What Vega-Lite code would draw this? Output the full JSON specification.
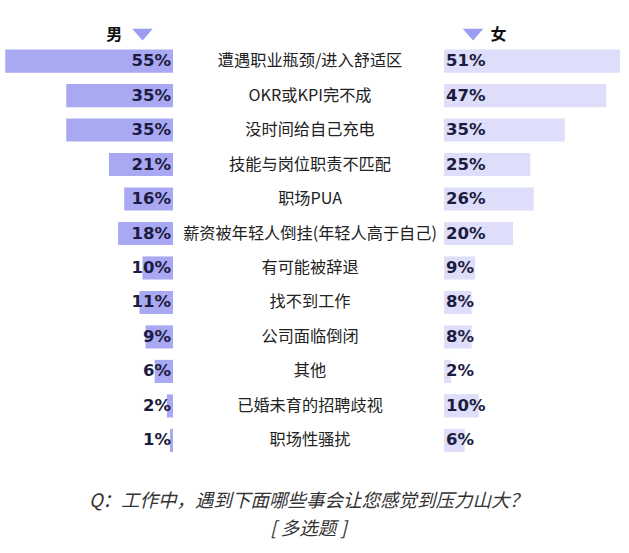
{
  "$schema": "https://vega.github.io/schema/vega-lite/v6.json",
  "width": 629,
  "height": 467,
  "autosize": {"type": "none"},
  "padding": {"left": 0, "top": 0, "right": 0, "bottom": 86},
  "background": "white",
  "config": {"view": {"stroke": null}},
  "title": {
    "text": "Q：工作中，遇到下面哪些事会让您感觉到压力山大？",
    "subtitle": "[ 多选题 ]",
    "orient": "bottom",
    "anchor": "middle",
    "offset": 25,
    "dx": -6,
    "font": "Noto Sans CJK SC",
    "fontSize": 18.5,
    "fontStyle": "italic",
    "fontWeight": "normal",
    "color": "#333333",
    "subtitleFont": "Noto Sans CJK SC",
    "subtitleFontSize": 18.5,
    "subtitleFontStyle": "italic",
    "subtitleColor": "#333333",
    "subtitlePadding": 9
  },
  "data": {
    "values": [
      {"item": "遭遇职业瓶颈/进入舒适区", "male": 0.55, "female": 0.51},
      {"item": "OKR或KPI完不成", "male": 0.35, "female": 0.47},
      {"item": "没时间给自己充电", "male": 0.35, "female": 0.35},
      {"item": "技能与岗位职责不匹配", "male": 0.21, "female": 0.25},
      {"item": "职场PUA", "male": 0.16, "female": 0.26},
      {"item": "薪资被年轻人倒挂(年轻人高于自己)", "male": 0.18, "female": 0.20},
      {"item": "有可能被辞退", "male": 0.10, "female": 0.09},
      {"item": "找不到工作", "male": 0.11, "female": 0.08},
      {"item": "公司面临倒闭", "male": 0.09, "female": 0.08},
      {"item": "其他", "male": 0.06, "female": 0.02},
      {"item": "已婚未育的招聘歧视", "male": 0.02, "female": 0.10},
      {"item": "职场性骚扰", "male": 0.01, "female": 0.06}
    ]
  },
  "resolve": {"scale": {"x": "independent"}},
  "layer": [
    {
      "layer": [
        {
          "mark": {"type": "bar", "color": "#a9a9f3"},
          "encoding": {
            "y": {"field": "item", "type": "nominal", "axis": null, "sort": null,
              "scale": {"domain": ["hdr", "遭遇职业瓶颈/进入舒适区", "OKR或KPI完不成", "没时间给自己充电", "技能与岗位职责不匹配", "职场PUA", "薪资被年轻人倒挂(年轻人高于自己)", "有可能被辞退", "找不到工作", "公司面临倒闭", "其他", "已婚未育的招聘歧视", "职场性骚扰"], "paddingInner": 0.33, "paddingOuter": 0.437}},
            "x": {"field": "male", "type": "quantitative", "axis": null,
              "scale": {"domain": [-1.495, 0.5672], "reverse": true, "zero": false, "nice": false}},
            "x2": {"datum": 0}
          }
        },
        {
          "mark": {"type": "text", "align": "right", "baseline": "middle", "dx": -2, "font": "DejaVu Sans", "fontSize": 16.5, "fontWeight": "bold", "color": "#1c1c40"},
          "encoding": {
            "y": {"field": "item", "type": "nominal", "axis": null, "sort": null},
            "x": {"datum": 0, "type": "quantitative", "axis": null,
              "scale": {"domain": [-1.495, 0.5672], "reverse": true, "zero": false, "nice": false}},
            "text": {"field": "male", "type": "quantitative", "format": ".0%"}
          }
        },
        {
          "data": {"values": [{"label": "男"}]},
          "mark": {"type": "text", "align": "center", "baseline": "middle", "dy": 8, "font": "Noto Sans CJK SC", "fontSize": 16, "fontWeight": "bold", "color": "#111111"},
          "encoding": {
            "y": {"datum": "hdr"},
            "x": {"datum": 0.193, "type": "quantitative"},
            "text": {"field": "label"}
          }
        },
        {
          "data": {"values": [{"label": "男"}]},
          "mark": {"type": "point", "shape": "M-1,-0.57L1,-0.57L0,0.57Z", "filled": true, "size": 420, "color": "#9c9cf0", "opacity": 1},
          "encoding": {
            "y": {"datum": "hdr"},
            "yOffset": {"value": 19.5},
            "x": {"datum": 0.1, "type": "quantitative"}
          }
        }
      ]
    },
    {
      "layer": [
        {
          "mark": {"type": "bar", "color": "#dedefa"},
          "encoding": {
            "y": {"field": "item", "type": "nominal", "axis": null, "sort": null},
            "x": {"field": "female", "type": "quantitative", "axis": null,
              "scale": {"domain": [-1.287, 0.536], "zero": false, "nice": false}},
            "x2": {"datum": 0}
          }
        },
        {
          "mark": {"type": "text", "align": "left", "baseline": "middle", "dx": 2, "font": "DejaVu Sans", "fontSize": 16.5, "fontWeight": "bold", "color": "#1c1c40"},
          "encoding": {
            "y": {"field": "item", "type": "nominal", "axis": null, "sort": null},
            "x": {"datum": 0, "type": "quantitative"},
            "text": {"field": "female", "type": "quantitative", "format": ".0%"}
          }
        },
        {
          "mark": {"type": "text", "align": "center", "baseline": "middle", "font": "Noto Sans CJK SC", "fontSize": 16.2, "color": "#222222"},
          "encoding": {
            "y": {"field": "item", "type": "nominal", "axis": null, "sort": null},
            "x": {"datum": -0.3884, "type": "quantitative"},
            "text": {"field": "item"}
          }
        },
        {
          "data": {"values": [{"label": "女"}]},
          "mark": {"type": "text", "align": "center", "baseline": "middle", "dy": 8, "font": "Noto Sans CJK SC", "fontSize": 16, "fontWeight": "bold", "color": "#111111"},
          "encoding": {
            "y": {"datum": "hdr"},
            "x": {"datum": 0.158, "type": "quantitative"},
            "text": {"field": "label"}
          }
        },
        {
          "data": {"values": [{"label": "女"}]},
          "mark": {"type": "point", "shape": "M-1,-0.57L1,-0.57L0,0.57Z", "filled": true, "size": 420, "color": "#9c9cf0", "opacity": 1},
          "encoding": {
            "y": {"datum": "hdr"},
            "yOffset": {"value": 19.5},
            "x": {"datum": 0.084, "type": "quantitative"}
          }
        }
      ]
    }
  ]
}
